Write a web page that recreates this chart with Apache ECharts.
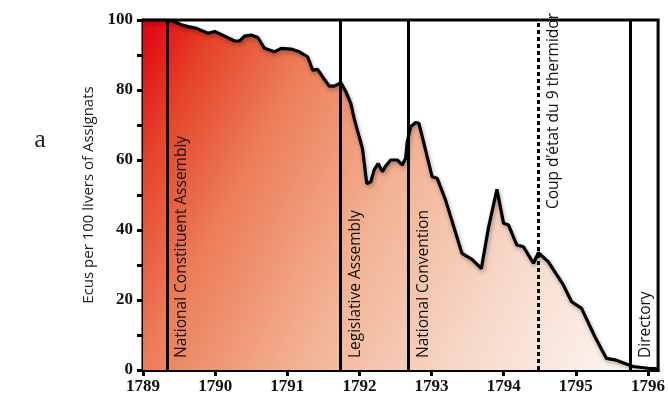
<!DOCTYPE html>
<html><head><meta charset="utf-8">
<script src="https://cdn.jsdelivr.net/npm/echarts@6/dist/echarts.min.js"></script>
<style>html,body{margin:0;padding:0;background:#fff}#c{width:668px;height:401px}</style>
</head><body><div id="c"></div>
<script>
// Years (decimal) and value of 100 livres of assignats in écus
const years = [1789.0,1789.327,1789.442,1789.534,1789.625,1789.741,1789.902,1789.994,1790.132,1790.270,1790.339,1790.408,1790.501,1790.592,1790.684,1790.822,1790.915,1791.053,1791.168,1791.282,1791.351,1791.420,1791.489,1791.582,1791.651,1791.743,1791.812,1791.881,1791.927,1791.996,1792.042,1792.102,1792.158,1792.203,1792.258,1792.318,1792.365,1792.434,1792.525,1792.594,1792.641,1792.663,1792.710,1792.779,1792.824,1792.893,1793.008,1793.077,1793.193,1793.422,1793.560,1793.690,1793.791,1793.906,1793.998,1794.067,1794.182,1794.274,1794.412,1794.481,1794.619,1794.826,1794.941,1795.079,1795.264,1795.424,1795.540,1795.793,1796.0,1796.138];
const values = [100,100,99.5,98.6,98.1,97.6,96.2,96.7,95.4,94.0,94.0,95.4,95.7,95.0,91.9,90.9,91.9,91.7,90.9,89.5,85.7,85.9,83.8,81.1,81.1,82.1,79.5,76.2,71.9,66.7,63.3,53.3,53.8,57.1,59.0,56.7,58.3,60.0,60.0,58.6,60.5,65.2,69.5,70.7,70.5,64.8,55.2,54.8,48.6,33.3,31.6,29.0,40.9,51.6,41.9,41.4,35.7,35.2,30.5,33.5,30.9,24.3,19.5,17.6,9.5,3.3,2.9,1.0,0.5,0.3];
const xTicks = [1789,1790,1791,1792,1793,1794,1795,1796];
const yLabels = [0,20,40,60,80,100];
const eventNames = ['National Constituent Assembly','Legislative Assembly','National Convention','Coup d\u2019état du 9 thermidor','Directory'];
const eventYears = [1789.33,1791.74,1792.68,1794.48,1795.76];
const eventDotted = [false,false,false,true,false];
const eventAtTop = [false,false,false,true,false];

const chart = echarts.init(document.getElementById('c'));
const data = years.map((y,i)=>[y, values[i]]);
const serif = '"Liberation Serif", "DejaVu Serif", serif';
const sans = '"Open Sans", "Noto Sans", sans-serif';

chart.setOption({
  animation:false,
  grid:{left:143,right:8,top:20,bottom:31,show:true,borderColor:'#000',borderWidth:3,backgroundColor:'transparent'},
  xAxis:{type:'value',min:1789,max:1796.14,interval:1,
    axisLine:{lineStyle:{color:'#000',width:3}},
    axisTick:{length:6,lineStyle:{color:'#000',width:3},customValues:xTicks},
    axisLabel:{customValues:xTicks,formatter:v=>String(v),color:'#111',fontFamily:serif,fontWeight:'bold',fontSize:17,margin:8},
    splitLine:{show:false}},
  yAxis:{type:'value',min:0,max:100,interval:10,
    name:'Ecus per 100 livers of Assignats',nameLocation:'middle',nameGap:45,
    nameTextStyle:{fontFamily:sans,fontSize:15,color:'#222'},
    axisLine:{show:true,lineStyle:{color:'#000',width:3}},
    axisTick:{show:true,length:6,lineStyle:{color:'#000',width:3}},
    axisLabel:{customValues:yLabels,color:'#111',fontFamily:serif,fontWeight:'bold',fontSize:17,margin:10},
    splitLine:{show:false}},
  series:[{
    type:'line',data:data,showSymbol:false,smooth:false,
    lineStyle:{color:'#000',width:3.2,shadowColor:'rgba(0,0,0,0.35)',shadowBlur:4,shadowOffsetX:1,shadowOffsetY:2},
    areaStyle:{opacity:1,color:new echarts.graphic.LinearGradient(0,0,1.065,0.813,[
      {offset:0,color:'#e3000f'},
      {offset:0.11,color:'#e5432a'},
      {offset:0.26,color:'#ec7e59'},
      {offset:0.48,color:'#f2b293'},
      {offset:0.72,color:'#f7dacb'},
      {offset:0.9,color:'#fbefe8'},
      {offset:1,color:'#fdf8f5'}])},
    markLine:{silent:true,symbol:'none',label:{show:false},
      data:eventYears.map((y,i)=>({xAxis:y,lineStyle:{color:'#000',width:3,type:eventDotted[i]?[4,3]:'solid'}}))}
  }]
});

const texts = eventYears.map((y,i)=>{
  const px = chart.convertToPixel({gridIndex:0},[y, eventAtTop[i]?100:0]);
  return {type:'text',z:100,x:px[0]+15,y:eventAtTop[i]?13:358,rotation:Math.PI/2,
    style:{text:eventNames[i],fill:'#111',font:'15.5px '+sans,
      align:eventAtTop[i]?'right':'left',verticalAlign:'middle'}};
});
texts.push({type:'text',z:100,x:40,y:140,style:{text:'a',fill:'#222',font:'26px '+serif,align:'center',verticalAlign:'middle'}});
chart.setOption({graphic:texts});
</script></body></html>
